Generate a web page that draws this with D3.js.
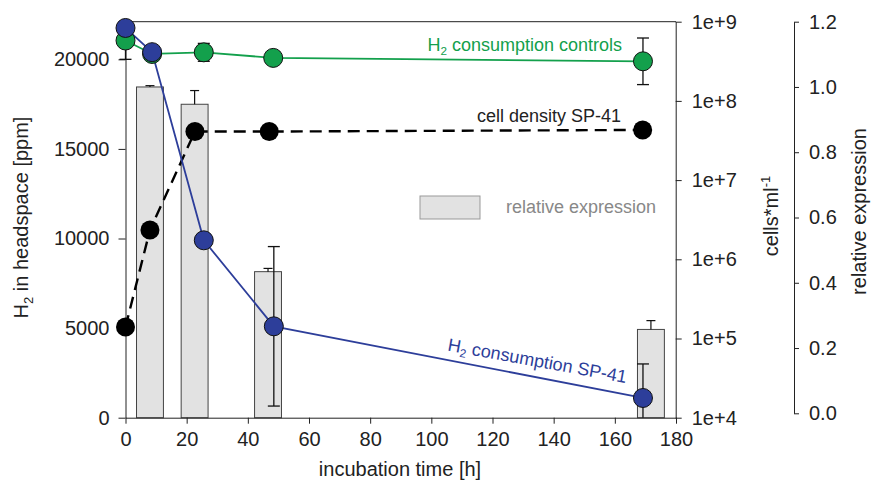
<!DOCTYPE html>
<html>
<head>
<meta charset="utf-8">
<script src="https://cdn.jsdelivr.net/npm/d3@7"></script>
<style>
  body { margin: 0; background: #fff; }
  text { font-family: "Liberation Sans", Arial, sans-serif; }
</style>
</head>
<body>
<div id="chart"></div>
<script>
const width = 875, height = 481;

// tick values
const xTicks = [0, 20, 40, 60, 80, 100, 120, 140, 160, 180];
const h2Ticks = [0, 5000, 10000, 15000, 20000];
const cellTicks = [1e4, 1e5, 1e6, 1e7, 1e8, 1e9];
const relTicks = [0, 0.2, 0.4, 0.6, 0.8, 1.0, 1.2];

// H2 consumption controls (green)
const ctrlTime = [0, 8.7, 25.6, 48.3, 169.2];
const ctrlH2 = [21050, 20300, 20390, 20080, 19890];
const ctrlErr = [1050, 0, 500, 0, 1300];

// H2 consumption SP-41 (blue)
const spTime = [0, 8.7, 25.6, 48.5, 169.2];
const spH2 = [21750, 20400, 9900, 5100, 1100];
const spErr = [0, 0, 0, 4450, 1900];

// cell density SP-41 (black, log axis)
const cellTime = [0, 8.0, 22.7, 47.0, 169.1];
const cellDensity = [1.4e5, 2.35e6, 4.1e7, 4.1e7, 4.3e7];

// relative expression (bars)
const barTime = [8.0, 22.6, 46.6, 171.8];
const relExpr = [1.0, 0.947, 0.434, 0.257];
const relErr = [0.004, 0.042, 0.01, 0.027];

const blue = "#2d3e9a", green = "#13a04c";

// scales
const x = d3.scaleLinear([0, 180], [125.5, 676]);
const yH2 = d3.scaleLinear([0, 22100], [417.7, 21.7]);
const yCell = d3.scaleLog([1e4, 1e9], [417.7, 21.7]);
const yRel = d3.scaleLinear([0, 1.2], [413.3, 21.7]);

const svg = d3.select("#chart").append("svg")
    .attr("width", width)
    .attr("height", height)
    .style("background", "#fff");

// bars first
const barW = 8.8;
svg.append("g").selectAll("rect")
  .data(barTime)
  .join("rect")
    .attr("x", (d, i) => x(d - barW / 2))
    .attr("width", (d, i) => x(d + barW / 2) - x(d - barW / 2))
    .attr("y", (d, i) => yRel(relExpr[i]))
    .attr("height", (d, i) => 417.7 - yRel(relExpr[i]))
    .attr("fill", "#e2e2e2")
    .attr("stroke", "#444")
    .attr("stroke-width", 1);

// bar error bars (upward only)
const barErr = svg.append("g").attr("stroke", "#111").attr("stroke-width", 1.2);
barTime.forEach((t, i) => {
  const cx = x(t), y0 = yRel(relExpr[i]), y1 = yRel(relExpr[i] + relErr[i]);
  barErr.append("line").attr("x1", cx).attr("x2", cx).attr("y1", y0).attr("y2", y1);
  barErr.append("line").attr("x1", cx - 4.5).attr("x2", cx + 4.5).attr("y1", y1).attr("y2", y1);
});

// axes
function styleAxis(g) {
  g.selectAll("path, line").attr("stroke", "#222").attr("stroke-width", 1);
  g.selectAll("text").attr("fill", "#222").style("font-size", "20px")
    .style("font-family", "'Liberation Sans', Arial, sans-serif");
}

svg.append("g")
    .attr("transform", "translate(0,417.7)")
    .call(d3.axisBottom(x).tickValues(xTicks).tickSize(6).tickPadding(8).tickSizeOuter(0))
    .call(styleAxis);

svg.append("g")
    .attr("transform", "translate(125.5,0)")
    .call(d3.axisLeft(yH2).tickValues(h2Ticks).tickFormat(d3.format("d"))
      .tickSize(7).tickPadding(9).tickSizeOuter(0))
    .call(styleAxis);

svg.append("g")
    .attr("transform", "translate(675.7,0)")
    .call(d3.axisRight(yCell).tickValues(cellTicks)
      .tickFormat(d => "1e+" + Math.round(Math.log10(d)))
      .tickSize(6).tickPadding(10).tickSizeOuter(0))
    .call(styleAxis);

svg.append("g")
    .attr("transform", "translate(794,0)")
    .call(d3.axisRight(yRel).tickValues(relTicks).tickFormat(d3.format(".1f"))
      .tickSize(5).tickPadding(10).tickSizeOuter(0))
    .call(styleAxis);

// top frame line
svg.append("line")
    .attr("x1", x(0)).attr("x2", x(180))
    .attr("y1", 21.7).attr("y2", 21.7)
    .attr("stroke", "#222");

// error bar helper for points
function errBars(times, vals, errs, yScale) {
  const g = svg.append("g").attr("stroke", "#111").attr("stroke-width", 1.3);
  const [lo, hi] = yScale.domain();
  times.forEach((t, i) => {
    if (!errs[i]) return;
    const cx = x(t);
    const top = Math.min(vals[i] + errs[i], hi), bot = Math.max(vals[i] - errs[i], lo);
    g.append("line").attr("x1", cx).attr("x2", cx).attr("y1", yScale(top)).attr("y2", yScale(bot));
    if (vals[i] + errs[i] <= hi)
      g.append("line").attr("x1", cx - 6).attr("x2", cx + 6).attr("y1", yScale(top)).attr("y2", yScale(top));
    if (vals[i] - errs[i] >= lo)
      g.append("line").attr("x1", cx - 6).attr("x2", cx + 6).attr("y1", yScale(bot)).attr("y2", yScale(bot));
  });
}

// cell density dashed line
const cellData = cellTime.map((t, i) => [t, cellDensity[i]]);
svg.append("path")
    .datum(cellData)
    .attr("fill", "none")
    .attr("stroke", "#000")
    .attr("stroke-width", 2.4)
    .attr("stroke-dasharray", "12,7")
    .attr("d", d3.line().x(d => x(d[0])).y(d => yCell(d[1])));

// controls line
const ctrlData = ctrlTime.map((t, i) => [t, ctrlH2[i]]);
svg.append("path")
    .datum(ctrlData)
    .attr("fill", "none")
    .attr("stroke", green)
    .attr("stroke-width", 1.8)
    .attr("d", d3.line().x(d => x(d[0])).y(d => yH2(d[1])));

// SP-41 line
const spData = spTime.map((t, i) => [t, spH2[i]]);
svg.append("path")
    .datum(spData)
    .attr("fill", "none")
    .attr("stroke", blue)
    .attr("stroke-width", 1.8)
    .attr("d", d3.line().x(d => x(d[0])).y(d => yH2(d[1])));

errBars(ctrlTime, ctrlH2, ctrlErr, yH2);
errBars(spTime, spH2, spErr, yH2);

// points
svg.append("g").selectAll("circle")
  .data(cellData).join("circle")
    .attr("cx", d => x(d[0])).attr("cy", d => yCell(d[1]))
    .attr("r", 9.5).attr("fill", "#000");

svg.append("g").selectAll("circle")
  .data(ctrlData).join("circle")
    .attr("cx", d => x(d[0])).attr("cy", d => yH2(d[1]))
    .attr("r", 9.5).attr("fill", green).attr("stroke", "#111").attr("stroke-width", 1);

svg.append("g").selectAll("circle")
  .data(spData).join("circle")
    .attr("cx", d => x(d[0])).attr("cy", d => yH2(d[1]))
    .attr("r", 9.5).attr("fill", blue).attr("stroke", "#111").attr("stroke-width", 1);

// labels inside the plot
function h2Label(parent, rest, size) {
  parent.append("tspan").text("H");
  parent.append("tspan").attr("dy", 4).style("font-size", (size * 0.65) + "px").text("2");
  parent.append("tspan").attr("dy", -4).text(rest);
}

const gl = svg.append("text")
    .attr("x", 622).attr("y", 50.5)
    .attr("text-anchor", "end")
    .attr("fill", green)
    .style("font-size", "18px");
h2Label(gl, " consumption controls", 18);

svg.append("text")
    .attr("x", 621).attr("y", 121.5)
    .attr("text-anchor", "end")
    .attr("fill", "#222")
    .style("font-size", "18px")
    .text("cell density SP-41");

svg.append("rect")
    .attr("x", 420).attr("y", 196).attr("width", 60).attr("height", 23)
    .attr("fill", "#e2e2e2").attr("stroke", "#999");

svg.append("text")
    .attr("x", 506).attr("y", 213)
    .attr("fill", "#888")
    .style("font-size", "18px")
    .text("relative expression");

const bl = svg.append("text")
    .attr("transform", "translate(447,350.5) rotate(10.3)")
    .attr("fill", blue)
    .style("font-size", "18px");
h2Label(bl, " consumption SP-41", 18);

// axis titles
svg.append("text")
    .attr("x", 400).attr("y", 476)
    .attr("text-anchor", "middle")
    .attr("fill", "#222")
    .style("font-size", "20px")
    .text("incubation time [h]");

const yl = svg.append("text")
    .attr("transform", "translate(28,217.5) rotate(-90)")
    .attr("text-anchor", "middle")
    .attr("fill", "#222")
    .style("font-size", "20px");
yl.append("tspan").text("H");
yl.append("tspan").attr("dy", 5).style("font-size", "13px").text("2");
yl.append("tspan").attr("dy", -5).text(" in headspace [ppm]");

const cl = svg.append("text")
    .attr("transform", "translate(778,216) rotate(-90)")
    .attr("text-anchor", "middle")
    .attr("fill", "#222")
    .style("font-size", "20px");
cl.append("tspan").text("cells*ml");
cl.append("tspan").attr("dy", -8).style("font-size", "13px").text("-1");

svg.append("text")
    .attr("transform", "translate(866,211.5) rotate(-90)")
    .attr("text-anchor", "middle")
    .attr("fill", "#222")
    .style("font-size", "20px")
    .text("relative expression");
</script>
</body>
</html>
